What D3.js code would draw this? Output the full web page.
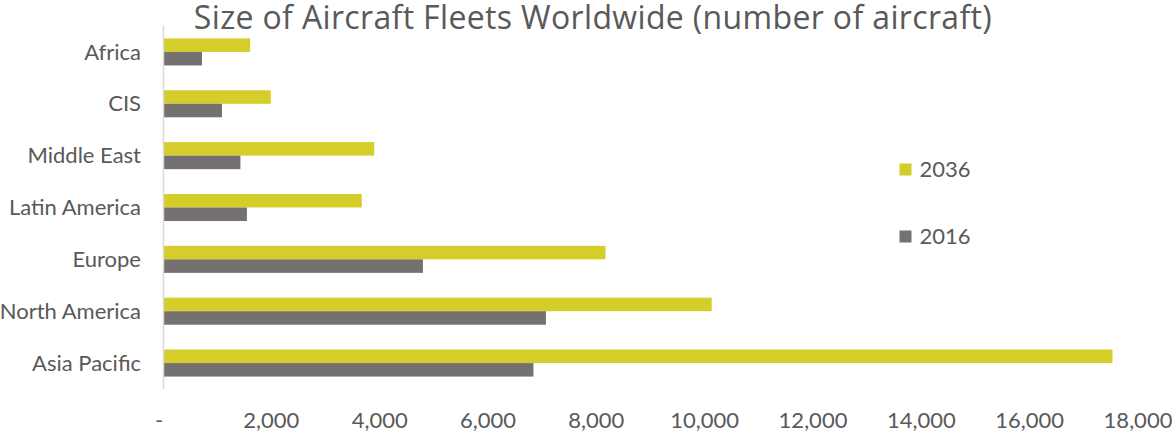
<!DOCTYPE html>
<html>
<head>
<meta charset="utf-8">
<script src="https://cdn.jsdelivr.net/npm/d3@7"></script>
<style>
  html, body { margin: 0; padding: 0; background: #ffffff; }
  svg { display: block; }
  text { font-family: Lato, "Open Sans", sans-serif; fill: #595959; }
</style>
</head>
<body>
<svg id="chart" width="1172" height="435"></svg>
<script>
// Regional fleet sizes, top to bottom as drawn
const regions = ["Africa", "CIS", "Middle East", "Latin America", "Europe", "North America", "Asia Pacific"];
const fleet2036 = [1600, 1980, 3890, 3660, 8160, 10120, 17520];
const fleet2016 = [710, 1080, 1420, 1540, 4790, 7060, 6830];
const seriesNames = ["2036", "2016"];
const seriesColors = ["#d5cd2a", "#767171"];
const tickValues = [0, 2000, 4000, 6000, 8000, 10000, 12000, 14000, 16000, 18000];
const tickLabels = ["-", "2,000", "4,000", "6,000", "8,000", "10,000", "12,000", "14,000", "16,000", "18,000"];
const title = "Size of Aircraft Fleets Worldwide (number of aircraft)";

const svg = d3.select("#chart");
const plot = { left: 163.5, right: 1138.5, top: 26, bottom: 389 };

const x = d3.scaleLinear().domain([0, 18000]).range([plot.left, plot.right]);
const y = d3.scaleBand().domain(regions).range([plot.top, plot.bottom])
  .paddingInner(0.479).paddingOuter(0.2395);
const ySeries = d3.scaleBand().domain(seriesNames).range([0, y.bandwidth()]);
const color = d3.scaleOrdinal().domain(seriesNames).range(seriesColors);

const rows = regions.map((r, i) => ({ region: r, values: { "2036": fleet2036[i], "2016": fleet2016[i] } }));

// Title
svg.append("text")
  .attr("x", 593).attr("y", 29)
  .attr("text-anchor", "middle")
  .style("font-family", "'Open Sans', Lato, sans-serif")
  .style("font-size", "32px")
  .style("letter-spacing", "0.35px")
  .text(title);

// Bars
const groups = svg.append("g").selectAll("g")
  .data(rows).join("g")
  .attr("transform", d => `translate(0,${y(d.region)})`);

groups.selectAll("rect")
  .data(d => seriesNames.map(s => ({ s, v: d.values[s] })))
  .join("rect")
  .attr("x", x(0))
  .attr("y", d => ySeries(d.s))
  .attr("width", d => x(d.v) - x(0))
  .attr("height", ySeries.bandwidth())
  .attr("fill", d => color(d.s));

// Vertical category axis line
svg.append("line")
  .attr("x1", x(0)).attr("x2", x(0))
  .attr("y1", plot.top).attr("y2", plot.bottom)
  .attr("stroke", "#d9d9d9").attr("stroke-width", 1.5);

// Category labels
svg.append("g").selectAll("text")
  .data(regions).join("text")
  .attr("x", 141)
  .attr("y", d => y(d) + y.bandwidth() / 2)
  .attr("dy", "0.35em")
  .attr("text-anchor", "end")
  .style("font-size", "22px")
  .text(d => d);

// Value axis labels
const xAxis = d3.axisBottom(x)
  .tickValues(tickValues)
  .tickSize(0)
  .tickPadding(0)
  .tickFormat((d, i) => tickLabels[i]);

const gx = svg.append("g")
  .attr("transform", `translate(0,${plot.bottom})`)
  .call(xAxis);
gx.select(".domain").remove();
gx.selectAll("text")
  .attr("y", 39)
  .attr("dy", 0)
  .attr("dx", d => d === 0 ? -5 : -1)
  .style("font-size", "22px")
  .style("font-family", "Lato, 'Open Sans', sans-serif")
  .attr("fill", "#595959");

// Legend
const legend = svg.append("g").selectAll("g")
  .data(seriesNames).join("g")
  .attr("transform", (d, i) => `translate(899.5,${163.5 + i * 67})`);
legend.append("rect")
  .attr("width", 12).attr("height", 12)
  .attr("fill", d => color(d));
legend.append("text")
  .attr("x", 20).attr("y", 6)
  .attr("dy", "0.35em")
  .style("font-size", "22px")
  .text(d => d);
</script>
</body>
</html>
